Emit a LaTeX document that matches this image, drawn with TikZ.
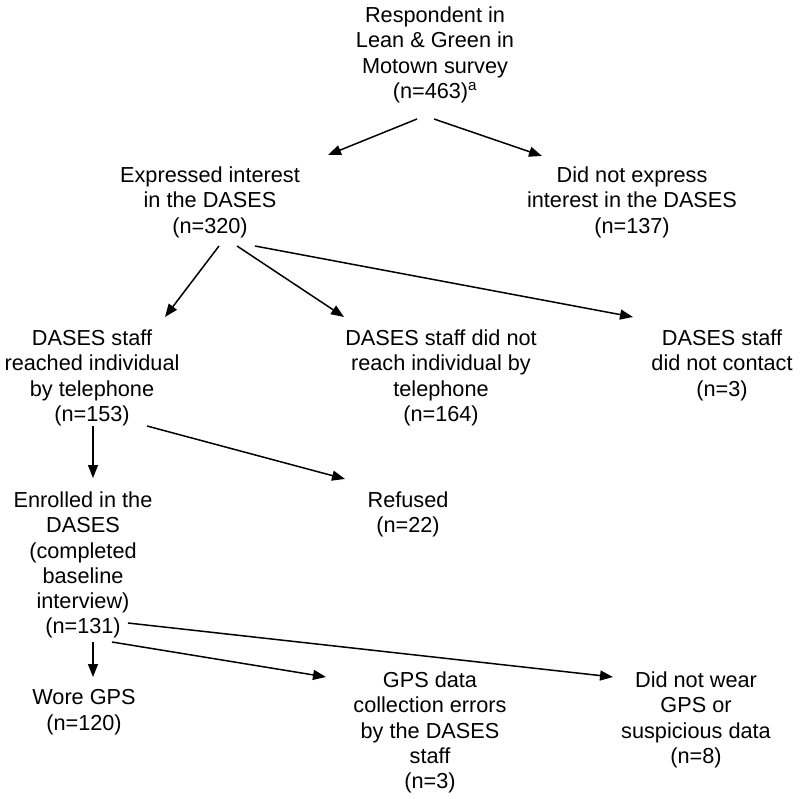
\documentclass[tikz,border=0pt]{standalone}
\usepackage{fontspec}
\setmainfont{Liberation Sans}
\usetikzlibrary{arrows.meta}
\begin{document}
\begin{tikzpicture}[x=1pt,y=-1pt,
  lbl/.style={align=center,anchor=north,inner sep=0pt,font=\fontsize{21.7}{25.3}\selectfont},
  arr/.style={line width=1.5pt,-{Triangle[length=13pt,width=10pt]}}]
\useasboundingbox (0,0) rectangle (800,799);
% nodes (positions: first line center minus 8.5)
\node[lbl] (top) at (435,6.5) {Respondent in\\Lean \& Green in\\Motown survey\\(n=463)\textsuperscript{a}};
\node[lbl] (expr) at (210,166.5) {Expressed interest\\in the DASES\\(n=320)};
\node[lbl] (noexpr) at (632,166.5) {Did not express\\interest in the DASES\\(n=137)};
\node[lbl] (reach) at (92,329.5) {DASES staff\\reached individual\\by telephone\\(n=153)};
\node[lbl] (noreach) at (441,329.5) {DASES staff did not\\reach individual by\\telephone\\(n=164)};
\node[lbl] (nocont) at (722,329.5) {DASES staff\\did not contact\\(n=3)};
\node[lbl] (enrol) at (83,491.5) {Enrolled in the\\DASES\\(completed\\baseline\\interview)\\(n=131)};
\node[lbl] (refused) at (408,491.5) {Refused\\(n=22)};
\node[lbl] (wore) at (84,689.5) {Wore GPS\\(n=120)};
\node[lbl] (gpserr) at (430,671.5) {GPS data\\collection errors\\by the DASES\\staff\\(n=3)};
\node[lbl] (nowear) at (696,671.5) {Did not wear\\GPS or\\suspicious data\\(n=8)};
% connector end points
\coordinate (s1) at (417,119); \coordinate (e1) at (328,155);
\coordinate (s2) at (434,119); \coordinate (e2) at (542,156);
\coordinate (s3) at (219,246); \coordinate (e3) at (165,317);
\coordinate (s4) at (237,246); \coordinate (e4) at (344,317);
\coordinate (s5) at (255,246); \coordinate (e5) at (633,317);
\coordinate (s6) at (93,426);  \coordinate (e6) at (93,478);
\coordinate (s7) at (147,426); \coordinate (e7) at (345,479);
\coordinate (s8) at (93,642);  \coordinate (e8) at (93,677);
\coordinate (s9) at (112,642); \coordinate (e9) at (326,677);
\coordinate (s10) at (128,623); \coordinate (e10) at (613,677);
\draw[arr] (s1) -- (e1);
\draw[arr] (s2) -- (e2);
\draw[arr] (s3) -- (e3);
\draw[arr] (s4) -- (e4);
\draw[arr] (s5) -- (e5);
\draw[arr] (s6) -- (e6);
\draw[arr] (s7) -- (e7);
\draw[arr] (s8) -- (e8);
\draw[arr] (s9) -- (e9);
\draw[arr] (s10) -- (e10);
\end{tikzpicture}
\end{document}
